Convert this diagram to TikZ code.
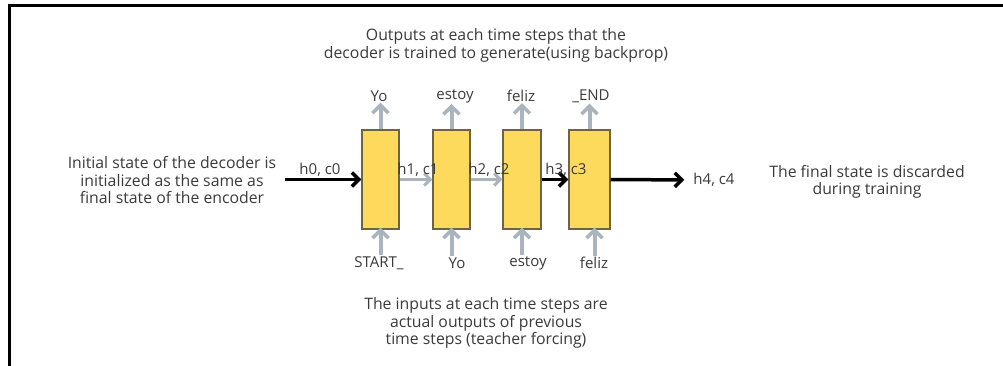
\documentclass[tikz,border=0pt]{standalone}
\usepackage{fontspec}
\setmainfont{Open Sans}
\usetikzlibrary{arrows.meta}
\definecolor{boxfill}{HTML}{FDDA5C}
\definecolor{boxline}{HTML}{6E6443}
\definecolor{grayarr}{HTML}{A9B4BE}
\definecolor{txt}{HTML}{3A3A3A}
\tikzset{
  cell/.style={draw=boxline, line width=1.3pt, fill=boxfill, minimum height=99pt, inner sep=0pt},
  txtnode/.style={text=txt, font=\fontsize{15.8}{17.5}\selectfont, align=center, inner sep=1pt},
  lbl/.style={text=txt, font=\fontsize{15}{16}\selectfont, inner sep=1pt},
  garrow/.style={draw=grayarr, line width=4pt, -{Straight Barb[length=8pt,width=16pt,line width=3.5pt]}},
  garrowh/.style={draw=grayarr, line width=3pt, -{Straight Barb[length=6pt,width=12pt,line width=3pt]}},
  barrow/.style={draw=black, line width=3.5pt, -{Straight Barb[length=7pt,width=14pt,line width=3.5pt]}}
}
\begin{document}
\begin{tikzpicture}[x=1pt,y=-1pt]
\useasboundingbox (0,0) rectangle (1003,366);
% frame
\draw[line width=3pt] (9,370) -- (9,5.5) -- (1005,5.5);
% cells
\node[cell, minimum width=37pt] (b1) at (380.5,179.5) {};
\node[cell, minimum width=37pt] (b2) at (451.5,179.5) {};
\node[cell, minimum width=38pt] (b3) at (522,179.5) {};
\node[cell, minimum width=41pt] (b4) at (589.5,179.5) {};
% output labels
\node[lbl] (o1) at (379,96) {Yo};
\node[lbl] (o2) at (455,96) {estoy};
\node[lbl] (o3) at (521,96) {feliz};
\node[lbl] (o4) at (591,96) {\_END};
% input labels
\node[lbl] (i1) at (379,263) {START\_};
\node[lbl] (i2) at (457,263) {Yo};
\node[lbl] (i3) at (528,263) {estoy};
\node[lbl] (i4) at (594,263) {feliz};
% vertical arrows
\draw[garrow] (b1.north) -- (b1.north |- o1.south);
\draw[garrow] (b2.north) -- (b2.north |- o2.south);
\draw[garrow] (b3.north) -- (b3.north |- o3.south);
\draw[garrow] (b4.north) -- (b4.north |- o4.south);
\draw[garrow] (b1.south |- i1.north) -- ([yshift=2pt]b1.south);
\draw[garrow] (b2.south |- i2.north) -- ([yshift=2pt]b2.south);
\draw[garrow] (b3.south |- i3.north) -- ([yshift=2pt]b3.south);
\draw[garrow] ([xshift=5pt]b4.south |- i4.north) -- ([xshift=5pt,yshift=2pt]b4.south);
% state labels
\node[lbl] (s0) at (320,170) {h0, c0};
\node[lbl] (h4) at (714,180) {h4, c4};
\coordinate (a0) at (285,179.5);
% horizontal arrows
\draw[barrow] (a0) -- (b1.west);
\draw[garrowh] (b1.east) -- (b2.west);
\draw[garrowh] (b2.east) -- (b3.west);
\draw[barrow] (b3.east) -- (b4.west);
\draw[barrow, shorten >=8pt] (b4.east) -- (h4.west);
\node[lbl] (s1) at (418,170) {h1, c1};
\node[lbl] (s2) at (489,170) {h2, c2};
\node[lbl] (s3) at (566,170) {h3, c3};
% texts
\node[txtnode] (top) at (496,45.5) {Outputs at each time steps that the\\decoder is trained to generate(using backprop)};
\node[txtnode] (left) at (172,180.5) {Initial state of the decoder is\\initialized as the same as\\final state of the encoder};
\node[txtnode] (right) at (867,182) {The final state is discarded\\during training};
\node[txtnode] (bottom) at (486,323) {The inputs at each time steps are\\actual outputs of previous\\time steps (teacher forcing)};
\end{tikzpicture}
\end{document}
